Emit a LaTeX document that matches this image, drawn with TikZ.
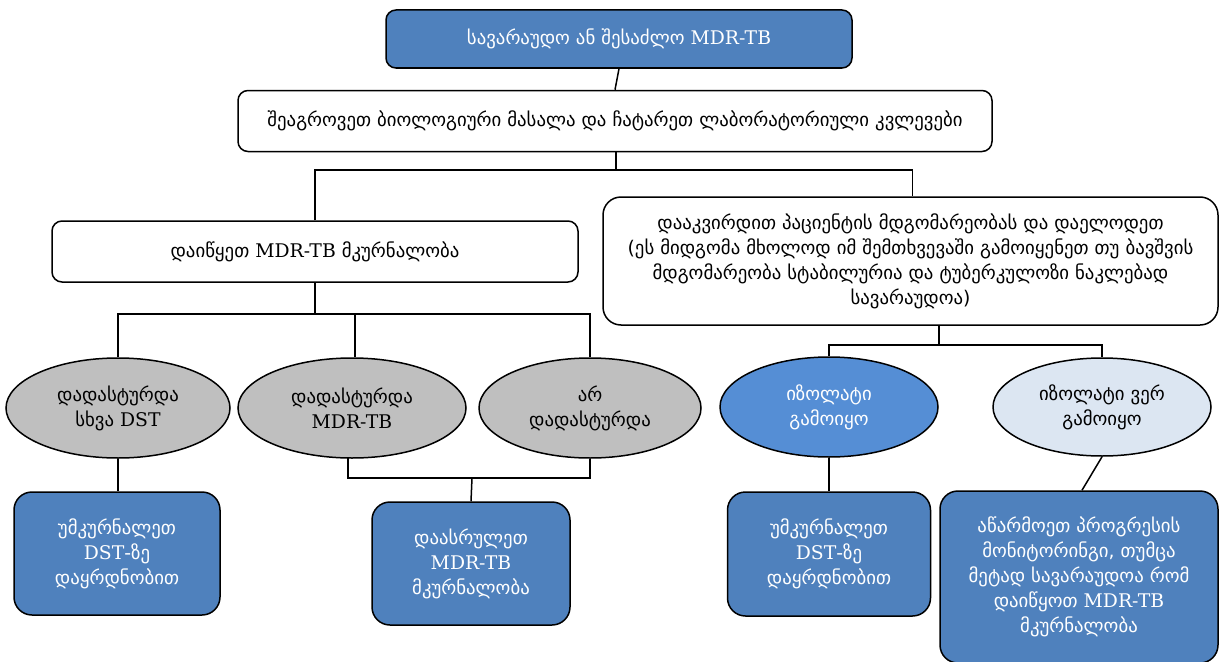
\documentclass[tikz,border=0pt]{standalone}
\usepackage{fontspec}
\setmainfont{DejaVu Sans}
\newfontfamily\latn{DejaVu Serif}
\newcommand{\mdr}{{\latn MDR-TB}}
\newcommand{\dst}{{\latn DST}}
\usetikzlibrary{shapes.geometric}
\definecolor{boxblue}{HTML}{4F81BD}
\definecolor{ellblue}{HTML}{558ED5}
\definecolor{ellgray}{HTML}{BFBFBF}
\definecolor{elllight}{HTML}{DCE6F2}
\begin{document}
\begin{tikzpicture}[x=1pt,y=-1pt,
  base/.style={draw=black, line width=1.5pt, align=center, inner sep=0pt,
    font=\fontsize{18.8}{25}\selectfont},
  rbox/.style={base, rectangle, rounded corners=10pt},
  bluebox/.style={rbox, fill=boxblue, text=white, rounded corners=18pt},
  ell/.style={base, ellipse},
  conn/.style={draw=black, line width=1.5pt}]
\useasboundingbox (0,0) rectangle (1220,661);

\node[rbox, fill=boxblue, text=white, minimum width=466pt, minimum height=58pt] (top) at (619,39) {სავარაუდო ან შესაძლო \mdr};
\node[rbox, fill=white, minimum width=754pt, minimum height=61pt] (box2) at (615,121) {შეაგროვეთ ბიოლოგიური მასალა და ჩატარეთ ლაბორატორიული კვლევები};
\node[rbox, fill=white, minimum width=526pt, minimum height=61pt] (left) at (315,251.5) {დაიწყეთ \mdr\ მკურნალობა};
\node[rbox, fill=white, minimum width=615pt, minimum height=128pt, rounded corners=18pt] (right) at (910.5,261) {დააკვირდით პაციენტის მდგომარეობას და დაელოდეთ\\(ეს მიდგომა მხოლოდ იმ შემთხვევაში გამოიყენეთ თუ ბავშვის\\მდგომარეობა სტაბილურია და ტუბერკულოზი ნაკლებად\\სავარაუდოა)};

\node[ell, fill=ellgray, minimum width=224pt, minimum height=100pt] (e1) at (118,408) {დადასტურდა\\სხვა \dst};
\node[ell, fill=ellgray, minimum width=228pt, minimum height=100pt] (e2) at (352,408) {დადასტურდა\\\mdr};
\node[ell, fill=ellgray, minimum width=222pt, minimum height=100pt] (e3) at (590,408) {არ\\დადასტურდა};
\node[ell, fill=ellblue, text=white, minimum width=218pt, minimum height=100pt] (e4) at (829,407) {იზოლატი\\გამოიყო};
\node[ell, fill=elllight, minimum width=218pt, minimum height=98pt] (e5) at (1102,407) {იზოლატი ვერ\\გამოიყო};

\node[bluebox, minimum width=206pt, minimum height=123pt] (b1) at (117,553.5) {უმკურნალეთ\\\dst-ზე\\დაყრდნობით};
\node[bluebox, minimum width=198pt, minimum height=123pt] (b2) at (471,563.5) {დაასრულეთ\\\mdr\\მკურნალობა};
\node[bluebox, minimum width=203pt, minimum height=124pt] (b3) at (829,554) {უმკურნალეთ\\\dst-ზე\\დაყრდნობით};
\node[bluebox, minimum width=278pt, minimum height=172pt] (b4) at (1079,577) {აწარმოეთ პროგრესის\\მონიტორინგი, თუმცა\\მეტად სავარაუდოა რომ\\დაიწყოთ \mdr\\მკურნალობა};

% connectors
\draw[conn] (top.south) -- (box2.north);
\coordinate (j1) at (616,170);
\draw[conn] (box2.south -| j1) -- (j1);
\draw[conn] (left.north) |- (j1) -| ([xshift=2pt]right.north);

\coordinate (j2) at (315,314);
\draw[conn] (left.south) -- (j2);
\draw[conn] (e1.north) |- (j2) -| (e3.north);
\coordinate (e2t) at (355,314);
\draw[conn] (e2t) -- (e2t |- e2.north);

\coordinate (j3) at (939,345);
\draw[conn] (right.south -| j3) -- (j3);
\draw[conn] (e4.north) |- (j3) -| (e5.north);

\draw[conn] (e1.south) -- (e1.south |- b1.north);
\coordinate (j4) at (472,478);
\coordinate (e2b) at (348,457);
\draw[conn] (e2b) |- (j4) -| (e3.south);
\draw[conn] (j4) -- (b2.north);
\draw[conn] (e4.south) -- (b3.north);
\draw[conn] (e5.south) -- ([xshift=3pt]b4.north);
\end{tikzpicture}
\end{document}
